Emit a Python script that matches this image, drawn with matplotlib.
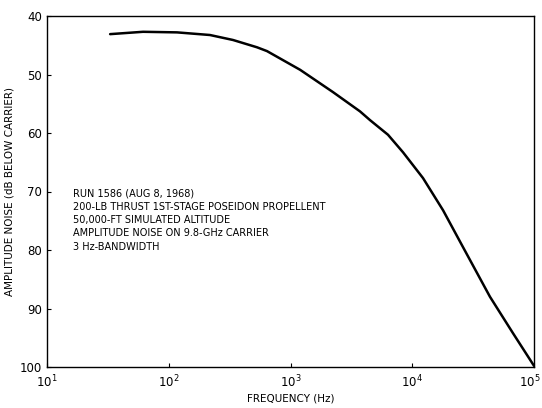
import matplotlib
matplotlib.use("Agg")
import matplotlib.pyplot as plt
import matplotlib.transforms as mtransforms
from matplotlib.ticker import NullLocator

freq_hz = [33, 61.5, 117, 218, 337, 531, 641, 1200, 2230, 3720, 4500, 6320,
           8400, 12250, 17900, 26100, 43500, 67100, 100000]
noise_db = [43.1, 42.7, 42.8, 43.25, 44.1, 45.35, 46.0, 49.2, 53.0, 56.3, 57.8, 60.3,
            63.3, 67.7, 73.2, 79.5, 88.0, 94.2, 99.8]

annotation_lines = [
    "RUN 1586 (AUG 8, 1968)",
    "200-LB THRUST 1ST-STAGE POSEIDON PROPELLENT",
    "50,000-FT SIMULATED ALTITUDE",
    "AMPLITUDE NOISE ON 9.8-GHz CARRIER",
    "3 Hz-BANDWIDTH",
]
y_ticks = [40, 50, 60, 70, 80, 90, 100]
x_ticks = [10, 100, 1000, 10000, 100000]
x_tick_labels = [r"$10^{1}$", r"$10^{2}$", r"$10^{3}$", r"$10^{4}$", r"$10^{5}$"]

plt.rcParams['font.family'] = ['DejaVu Sans']
fig = plt.figure(figsize=(5.42, 4.08), dpi=100)
ax = fig.add_axes([47/542, 1-367/408, (534-47)/542, (367-16)/408])

ax.plot(freq_hz, noise_db, color='black', lw=1.8, solid_capstyle='round',
        solid_joinstyle='round')
ax.set_xscale('log')
ax.set_xlim(10, 1e5)
ax.set_ylim(100, 40)
ax.set_yticks(y_ticks)
ax.set_yticklabels([str(v) for v in y_ticks])
ax.set_xticks(x_ticks, labels=x_tick_labels)
ax.xaxis.set_minor_locator(NullLocator())
ax.tick_params(axis='both', direction='in', length=3, width=0.8, labelsize=8.5)
ax.tick_params(axis='x', pad=5)
for s in ax.spines.values():
    s.set_linewidth(1.0)

last = ax.get_xticklabels()[-1]
last.set_transform(last.get_transform() +
                   mtransforms.ScaledTranslation(-4/100, 0, fig.dpi_scale_trans))

ax.set_xlabel("FREQUENCY (Hz)", fontsize=7.5, labelpad=2)
ax.set_ylabel("AMPLITUDE NOISE (dB BELOW CARRIER)", fontsize=7.5, labelpad=4)

for i, line in enumerate(annotation_lines):
    fig.text(73/542, 1 - (193 + i*13.5)/408, line, fontsize=7, va='center', ha='left')

fig.savefig("out.png", dpi=100)
